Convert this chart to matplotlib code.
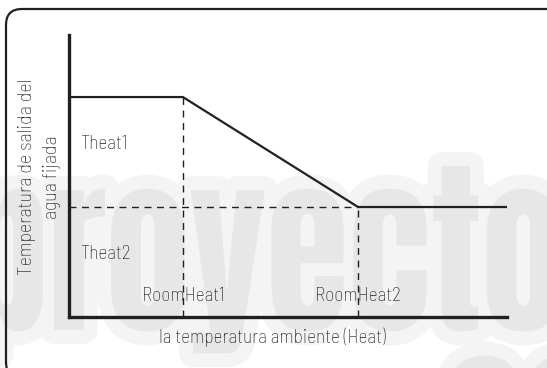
import matplotlib
matplotlib.use('Agg')
import matplotlib.pyplot as plt
from matplotlib.textpath import TextPath
from matplotlib.patches import PathPatch, FancyBboxPatch
from matplotlib.font_manager import FontProperties
from matplotlib.transforms import Affine2D, IdentityTransform

# heating curve: set water temperature vs. ambient temperature (schematic units)
room_temps = [0, 26, 66, 100]
water_temps = [78, 78, 39, 39]
room_labels = ['RoomHeat1', 'RoomHeat2']
room_marks = [26, 66]
water_labels = ['Theat1', 'Theat2']
water_marks = [78, 39]

INK = '#231f20'
TXT = '#1e1e1e'
plt.rcParams['font.family'] = ['Barlow Semi Condensed', 'DejaVu Sans']
plt.rcParams['font.weight'] = 'light'

W, H = 547, 368
fig = plt.figure(figsize=(W / 100, H / 100), dpi=100)
fig.patch.set_facecolor('white')


def watermark(text, x0, x1, base, xh_px):
    # big grey lettering with a lighter halo, drawn in pixel coordinates
    fp = FontProperties(family=['Anton', 'DejaVu Sans'])
    tp = TextPath((0, 0), text, size=100, prop=fp)
    xh = TextPath((0, 0), 'x', size=100, prop=fp).get_extents().height
    ext = tp.get_extents()
    sy = xh_px / xh
    sx = (x1 - x0) / ext.width
    tr = Affine2D().translate(-ext.x0, 0).scale(sx, sy).translate(x0, base)
    path = tr.transform_path(tp)
    fig.patches.append(PathPatch(path, fc='#f4f4f4', ec='#f4f4f4', lw=20,
                                 joinstyle='round', transform=IdentityTransform(), zorder=-3))
    fig.patches.append(PathPatch(path, fc='#e7e7e7', ec='none',
                                 transform=IdentityTransform(), zorder=-2))


watermark('proyecto', -30, 560, H - 330, 140)
watermark('es', 448, 600, H - 357 - 140, 140)

# rounded frame
frame = FancyBboxPatch((6, -10), 560, H - 9 + 10, boxstyle='round,pad=0,rounding_size=16',
                       fc='none', ec=INK, lw=1.6, transform=IdentityTransform(), zorder=-1)
fig.patches.append(frame)

ax = fig.add_axes([69 / W, (H - 317) / H, 438 / W, 282 / H])
ax.patch.set_alpha(0)
ax.set_xlim(0, 100)
ax.set_ylim(0, 100)
for s in ['top', 'right']:
    ax.spines[s].set_visible(False)
for s in ['left', 'bottom']:
    ax.spines[s].set_linewidth(2.4)
    ax.spines[s].set_color(INK)
    ax.spines[s].set_capstyle('projecting')
ax.set_xticks([])
ax.set_yticks([])

ax.plot(room_temps, water_temps, color=INK, lw=1.6, solid_joinstyle='miter', zorder=3)

dash = dict(color=INK, lw=1.0, dashes=(5, 4), zorder=2)
for xm, ym in zip(room_marks, water_marks):
    ax.plot([xm, xm], [0, ym], **dash)
ax.plot([0, room_marks[1]], [water_marks[1], water_marks[1]], **dash)

for lab, ym in zip(water_labels, water_marks):
    ax.text(2.5, ym - 16.5, lab, fontsize=14, color=TXT, ha='left', va='center')
for lab, xm in zip(room_labels, room_marks):
    ax.text(xm, 7.5, lab, fontsize=14, color=TXT, ha='center', va='center')

fig.text(272 / W, 1 - 337 / H, 'la temperatura ambiente (Heat)', fontsize=14,
         color=TXT, ha='center', va='center')
fig.text(40 / W, 1 - 177 / H, 'Temperatura de salida del\nagua fijada', fontsize=14.5,
         color=TXT, ha='center', va='center', rotation=90, multialignment='center',
         linespacing=1.5)

fig.savefig('out.png', dpi=100)
